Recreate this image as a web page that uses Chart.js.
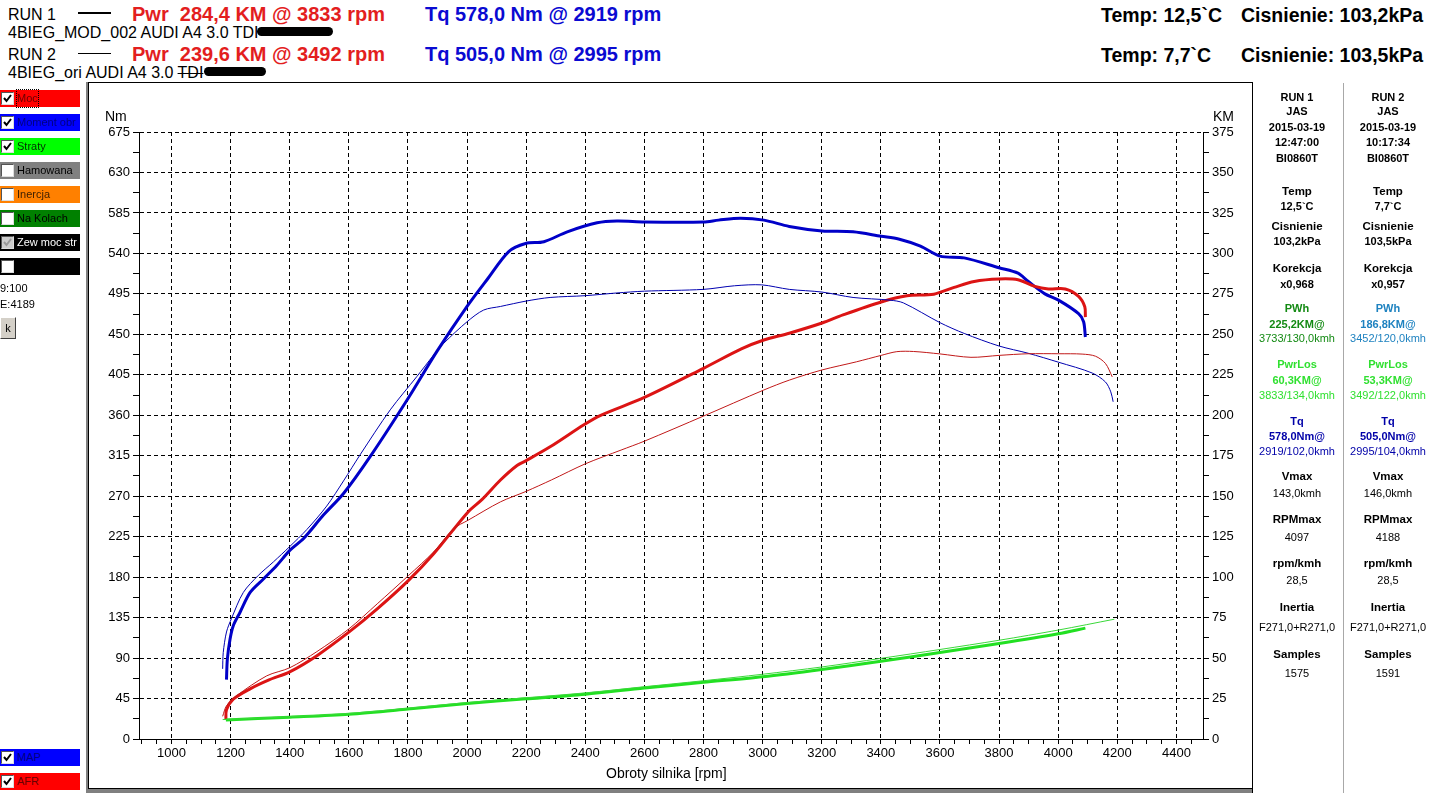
<!DOCTYPE html>
<html>
<head>
<meta charset="UTF-8">
<title>AUDI A4 3.0 TDI - Moc i moment</title>
<script src="https://cdn.jsdelivr.net/npm/chart.js"></script>
<style>
body{margin:0;background:#fff;font-family:"Liberation Sans",Arial,sans-serif;width:1431px;height:793px;position:relative;overflow:hidden}
.a{position:absolute;white-space:pre}
.run{font-size:16px;line-height:16px;color:#000}
.big{font-size:20px;line-height:20px;font-weight:bold}
.tmp{font-size:19.5px;line-height:20px;font-weight:bold;color:#000}
.blob{display:inline-block;background:#000;border-radius:5px;height:9px;vertical-align:2px}
.bar{position:absolute;left:0;width:80px;height:17px;font-size:11px;line-height:17px}
.bar .cb{position:absolute;left:1px;top:2px;width:11px;height:11px;background:#fff;border:1px solid;border-color:#555 #ddd #ddd #555}
.bar .cb svg{position:absolute;left:0;top:0}
.bar span{position:absolute;left:17px;top:0}
.ax{font-size:14px;line-height:14px;color:#000}
.rp{position:absolute;width:90px;text-align:center;font-size:11px;line-height:14px;height:14px}
</style>
</head>
<body>

<div class="a run" style="left:8px;top:7px">RUN 1</div>
<div class="a" style="left:78px;top:12px;width:33px;height:2px;background:#000"></div>
<div class="a big" style="left:132px;top:4px;color:#e31e1e">Pwr  284,4 KM @ 3833 rpm</div>
<div class="a big" style="left:425px;top:4px;color:#0a0ad2">Tq 578,0 Nm @ 2919 rpm</div>
<div class="a run" style="left:8px;top:25px">4BIEG_MOD_002 AUDI A4 3.0 TDI<span class="blob" style="width:76px;margin-left:-2px"></span></div>

<div class="a run" style="left:8px;top:47px">RUN 2</div>
<div class="a" style="left:78px;top:53px;width:33px;height:1px;background:#000"></div>
<div class="a big" style="left:132px;top:44px;color:#e31e1e">Pwr  239,6 KM @ 3492 rpm</div>
<div class="a big" style="left:425px;top:44px;color:#0a0ad2">Tq 505,0 Nm @ 2995 rpm</div>
<div class="a run" style="left:8px;top:65px">4BIEG_ori AUDI A4 3.0 <span style="text-decoration:line-through">TDI</span><span class="blob" style="width:62px;margin-left:1px"></span></div>

<div class="a tmp" style="left:1101px;top:5px">Temp: 12,5`C</div>
<div class="a tmp" style="left:1241px;top:5px">Cisnienie: 103,2kPa</div>
<div class="a tmp" style="left:1101px;top:45px">Temp: 7,7`C</div>
<div class="a tmp" style="left:1241px;top:45px">Cisnienie: 103,5kPa</div>

<!-- ramka wykresu -->
<div class="a" style="left:88px;top:82px;width:1165px;height:1px;background:#000"></div>
<div class="a" style="left:86px;top:82px;width:2px;height:711px;background:#808080"></div>
<div class="a" style="left:88px;top:83px;width:1px;height:706px;background:#000"></div>
<div class="a" style="left:88px;top:788px;width:1165px;height:1px;background:#000"></div>
<div class="a" style="left:86px;top:789px;width:1167px;height:4px;background:#808080"></div>
<div class="a" style="left:1252px;top:82px;width:1px;height:711px;background:#000"></div>
<div class="a" style="left:1343px;top:83px;width:1px;height:710px;background:#a8a8a8"></div>

<canvas id="wykres" class="a" style="left:88px;top:83px" width="1164" height="705"></canvas>

<div class="a ax" style="left:105px;top:109px">Nm</div>
<div class="a ax" style="left:1213px;top:109px">KM</div>
<div class="a ax" style="left:606px;top:766px">Obroty silnika [rpm]</div>

<div id="lewy"></div>
<div class="a" style="left:0;top:282px;font-size:11px">9:100</div>
<div class="a" style="left:0;top:298px;font-size:11px">E:4189</div>
<div class="a" style="left:0;top:317px;width:14px;height:20px;background:#d4d0c8;border:1px solid;border-color:#fff #404040 #404040 #fff;font-size:11px;line-height:20px;text-align:center">k</div>

<div id="prawy"></div>

<script>
// RUN 1 (thick) and RUN 2 (thin) curves
const run1TqRpm = [1186,1189,1198,1209,1232,1266,1311,1356,1401,1447,1514,1582,1672,1797,1898,2000,2068,2141,2198,2260,2339,2440,2507,2600,2800,2851,2925,3004,3090,3201,3306,3401,3460,3534,3600,3682,3800,3864,3898,3955,4001,4069,4086,4092];
const run1Tq    = [66,89,111,126,141,163,178,193,210,223,249,273,314,377,431,481,511,542,551,553,564,574,576,575,575,577,579,577,570,565,564,559,556,548,537,535,524,518,509,495,488,473,464,447];

const run2TqRpm = [1173,1175,1186,1203,1243,1294,1345,1400,1458,1525,1582,1638,1740,1830,1887,1921,2000,2056,2113,2200,2281,2400,2507,2600,2800,2905,2997,3090,3201,3306,3431,3476,3600,3682,3800,3898,4001,4115,4160,4178,4186];
const run2Tq    = [78,96,119,134,163,182,197,214,233,259,287,316,366,403,427,440,464,477,481,487,491,493,496,498,500,504,505,500,497,491,488,485,463,451,437,429,419,407,397,386,375];

const run1PwrRpm = [1184,1186,1209,1266,1330,1400,1492,1600,1696,1802,1887,2002,2051,2113,2169,2200,2281,2394,2452,2600,2800,2928,3004,3090,3201,3272,3401,3488,3579,3648,3716,3800,3864,3921,3967,4024,4069,4090,4092];
const run1Pwr    = [12,18,24.6,31,36.5,41.5,51.5,66,80.4,98,114.4,140,148,160,169,172,180.5,194,200,211,229,241,246.5,250.7,257,262,270,273.8,274.8,279,282.7,284.2,283.7,279.6,278,278,273.4,267,260.6];

const run2PwrRpm = [1173,1186,1220,1322,1400,1492,1600,1696,1802,1887,1955,2002,2113,2200,2285,2400,2521,2600,2800,3004,3090,3201,3317,3401,3454,3511,3600,3705,3800,3898,4001,4081,4126,4160,4183];
const run2Pwr    = [14,20.5,26.7,39,44,54,68,83.5,101,115.6,130,135,146.5,153,160,170,178.5,184,199.5,215.6,221.7,228,233,237,239.3,239.4,237.9,235.8,237,238,238,237.8,236.5,232,223.7];

const run1LossRpm = [1184,1400,1600,1800,2000,2200,2400,2600,2800,3000,3200,3400,3600,3800,4000,4092];
const run1Loss    = [11.8,13.5,15.3,18.5,22,24.8,27.7,31.5,35,38.5,43,48,53.5,59,65,68.5];
const run2LossRpm = [1173,1400,1600,1800,2000,2200,2400,2600,2800,3000,3200,3400,3600,3800,4000,4190];
const run2Loss    = [12,13.8,15.8,19,22.5,25.5,28.5,32.3,36,40,44.5,49.8,55.3,61,67.3,74];

// tick positions
const rpmTicks = [];
for (let v = 900; v <= 4450; v += 50) rpmTicks.push(v);
const nmTicks = [];
for (let i = 0; i <= 30; i++) nmTicks.push(i * 22.5);
const kmTicks = [];
for (let i = 0; i <= 30; i++) kmTicks.push(i * 12.5);

// right info panel
const col1 = ['RUN 1','JAS','2015-03-19','12:47:00','BI0860T','Temp','12,5`C','Cisnienie','103,2kPa','Korekcja','x0,968','PWh','225,2KM@','3733/130,0kmh','PwrLos','60,3KM@','3833/134,0kmh','Tq','578,0Nm@','2919/102,0kmh','Vmax','143,0kmh','RPMmax','4097','rpm/kmh','28,5','Inertia','F271,0+R271,0','Samples','1575'];
const col2 = ['RUN 2','JAS','2015-03-19','10:17:34','BI0860T','Temp','7,7`C','Cisnienie','103,5kPa','Korekcja','x0,957','PWh','186,8KM@','3452/120,0kmh','PwrLos','53,3KM@','3492/122,0kmh','Tq','505,0Nm@','2995/104,0kmh','Vmax','146,0kmh','RPMmax','4188','rpm/kmh','28,5','Inertia','F271,0+R271,0','Samples','1591'];
const rowY = [97,111,127,142,158,191,206,226,241,268,284,308,324,338,364,380,395,421,436,451,476,493,519,537,563,580,607,627,654,673];
const rowKind = 'bbbbbBbBbBbbbrbbrbbrBrBrBrBrBr';

const prawy = document.getElementById('prawy');
[[col1, 1252], [col2, 1343]].forEach(([col, x], c) => {
  col.forEach((t, i) => {
    const d = document.createElement('div');
    d.className = 'rp';
    d.style.left = x + 'px';
    d.style.top = (rowY[i] - 7) + 'px';
    const k = rowKind[i];
    d.style.fontWeight = k === 'r' ? 'normal' : 'bold';
    if (k === 'B') d.style.fontSize = '11.5px';
    let col = '#000';
    if (i >= 11 && i <= 13) col = c === 0 ? '#138a13' : '#1e82c0';
    if (i >= 14 && i <= 16) col = '#30e030';
    if (i >= 17 && i <= 19) col = '#0000a8';
    d.style.color = col;
    d.textContent = t;
    prawy.appendChild(d);
  });
});

// left checkbox panel
const bars = [
  ['Moc', '#ff0000', '#6a0000', 1, 90],
  ['Moment obr', '#0000ff', '#000080', 1, 114],
  ['Straty', '#00ff00', '#003000', 1, 138],
  ['Hamowana', '#808080', '#000', 0, 162],
  ['Inercja', '#ff8000', '#402000', 0, 186],
  ['Na Kolach', '#008000', '#000', 0, 210],
  ['Zew moc str', '#000', '#fff', 2, 234],
  ['', '#000', '#fff', 0, 258],
  ['MAP', '#0000ff', '#000080', 1, 749],
  ['AFR', '#ff0000', '#6a0000', 1, 773]
];
const lewy = document.getElementById('lewy');
bars.forEach(([t, bg, fg, chk, y]) => {
  const b = document.createElement('div');
  b.className = 'bar';
  b.style.top = y + 'px';
  b.style.background = bg;
  b.style.color = fg;
  let mark = '';
  if (chk) mark = '<svg width="11" height="11"><polyline points="2,5 4.5,8 9,2" fill="none" stroke="' + (chk === 2 ? '#999' : '#000') + '" stroke-width="2"/></svg>';
  b.innerHTML = '<div class="cb"' + (chk === 2 ? ' style="background:#ccc"' : '') + '>' + mark + '</div><span' + (t === 'Moc' ? ' style="outline:1px dotted #000"' : '') + '>' + t + '</span>';
  lewy.appendChild(b);
});

const pts = (xs, ys) => xs.map((x, i) => ({x: x, y: ys[i]}));
const axisFont = {family: '"Liberation Sans", Arial, sans-serif', size: 13};

new Chart(document.getElementById('wykres'), {
  type: 'line',
  data: {
    datasets: [
      {label: 'Straty RUN 2', data: pts(run2LossRpm, run2Loss), yAxisID: 'y1', borderColor: '#3ad83a', borderWidth: 1},
      {label: 'Straty RUN 1', data: pts(run1LossRpm, run1Loss), yAxisID: 'y1', borderColor: '#22e022', borderWidth: 3},
      {label: 'Moc RUN 2', data: pts(run2PwrRpm, run2Pwr), yAxisID: 'y1', borderColor: '#c01818', borderWidth: 1},
      {label: 'Moment RUN 2', data: pts(run2TqRpm, run2Tq), yAxisID: 'y', borderColor: '#0000b0', borderWidth: 1},
      {label: 'Moc RUN 1', data: pts(run1PwrRpm, run1Pwr), yAxisID: 'y1', borderColor: '#dc1414', borderWidth: 3},
      {label: 'Moment RUN 1', data: pts(run1TqRpm, run1Tq), yAxisID: 'y', borderColor: '#0000c8', borderWidth: 3}
    ]
  },
  options: {
    responsive: false,
    animation: false,
    devicePixelRatio: 1,
    layout: {padding: {top: 49, left: 0, right: 0, bottom: 0}},
    elements: {point: {radius: 0}, line: {tension: 0.3, fill: false}},
    plugins: {legend: {display: false}, tooltip: {enabled: false}},
    scales: {
      x: {
        type: 'linear', min: 890, max: 4490,
        afterBuildTicks: s => { s.ticks = rpmTicks.map(v => ({value: v})); },
        afterFit: s => { s.height = 49; },
        ticks: {autoSkip: false, maxRotation: 0, color: '#000', font: axisFont, padding: 2,
                callback: v => v % 200 === 0 ? String(v) : ''},
        grid: {color: c => (c.tick && c.tick.value % 200 === 0) ? '#000' : 'rgba(0,0,0,0)',
               tickColor: '#000', tickLength: 5, lineWidth: 1},
        border: {color: '#000', width: 1, dash: [4, 3]}
      },
      y: {
        position: 'left', min: 0, max: 675,
        afterBuildTicks: s => { s.ticks = nmTicks.map(v => ({value: v})); },
        afterFit: s => { s.width = 51; },
        ticks: {autoSkip: false, color: '#000', font: axisFont, padding: 3,
                callback: (v, i) => i % 2 === 0 ? String(v) : ''},
        grid: {color: c => (c.index % 2 === 0 && c.index > 0) ? '#000' : 'rgba(0,0,0,0)',
               tickColor: '#000', tickLength: 6, lineWidth: 1},
        border: {color: '#000', width: 1, dash: [4, 3]}
      },
      y1: {
        position: 'right', min: 0, max: 375,
        afterBuildTicks: s => { s.ticks = kmTicks.map(v => ({value: v})); },
        afterFit: s => { s.width = 49; },
        ticks: {autoSkip: false, color: '#000', font: axisFont, padding: 3,
                callback: (v, i) => i % 2 === 0 ? String(v) : ''},
        grid: {drawOnChartArea: false, color: '#000', tickColor: '#000', tickLength: 6},
        border: {color: '#000', width: 1}
      }
    }
  }
});
</script>
</body>
</html>
